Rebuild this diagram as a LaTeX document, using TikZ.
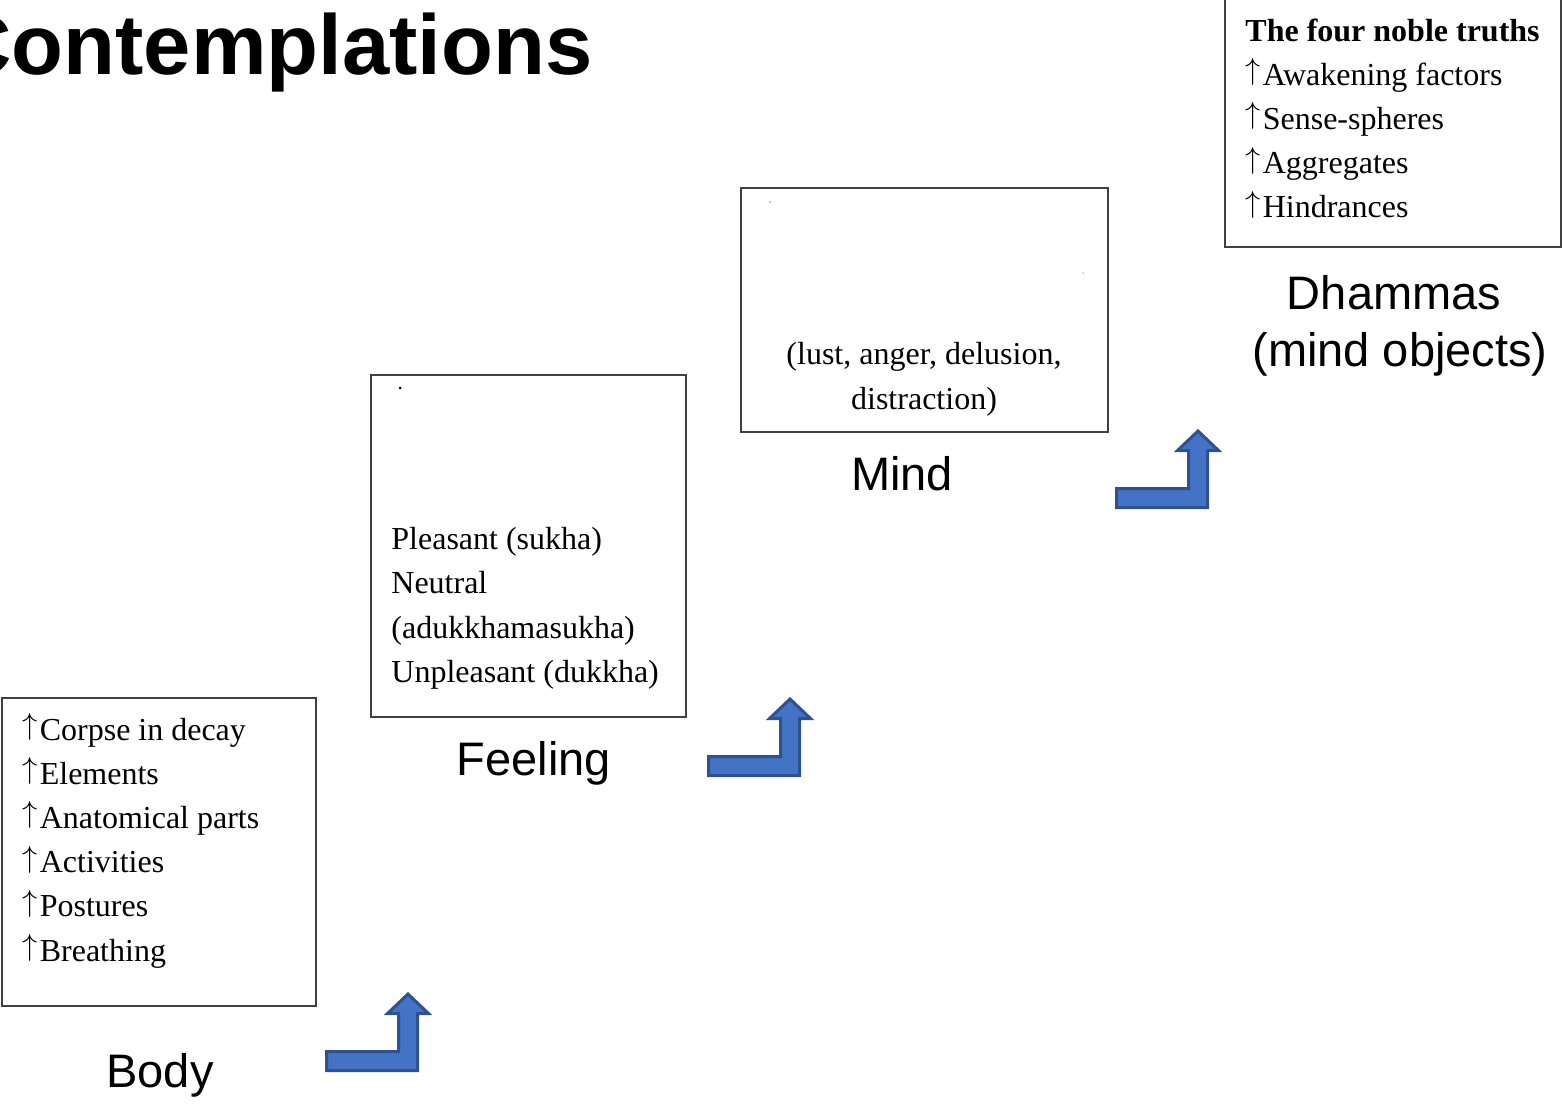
\documentclass[tikz,border=0pt]{standalone}
\usepackage{graphicx}
\usepackage{fontspec}
\setmainfont{Liberation Serif}
\newfontfamily\headfont{Liberation Sans}
\usetikzlibrary{fit,positioning}

\definecolor{arrowblue}{HTML}{4472C4}
\definecolor{arrowedge}{HTML}{2F528F}
\definecolor{boxgray}{HTML}{404040}

\newcommand{\upmark}{\raisebox{0.17em}{\scalebox{0.878}{$\uparrow$}}\kern0.07em}

\begin{document}
\begin{tikzpicture}[x=0.5pt, y=-0.5pt,
    box/.style={draw=boxgray, line width=0.75pt, inner sep=0pt},
    entry/.style={anchor=base west, inner sep=0pt, font=\fontsize{16}{22}\selectfont},
    midline/.style={anchor=base, inner sep=0pt, font=\fontsize{16}{22}\selectfont},
    stage/.style={anchor=base, inner sep=0pt, font=\headfont\fontsize{23.5}{28}\selectfont},
    turnarrow/.style={fill=arrowblue, draw=arrowedge, line width=1.5pt}]
   \useasboundingbox (0,0) rectangle (1562,1103);
   \clip (0,0) rectangle (1562,1103);

   % title
   \node[anchor=base west, inner sep=0pt, font=\headfont\bfseries\fontsize{42.5}{50}\selectfont]
     (title) at (-50,74) {Contemplations};

   % boxes
   \node[box, fit={(2,698) (316,1006)}] (bodybox) {};
   \node[box, fit={(371,375) (686,717)}] (feelbox) {};
   \node[box, fit={(741,188) (1108,432)}] (mindbox) {};
   \node[box, fit={(1225,-10) (1561,247)}] (dhammabox) {};

   % stray marks
   \fill (400,388) circle (1.5);
   \fill (770,202) circle (0.7);
   \fill (1083,273) circle (0.5);

   % body
   \foreach \entrytext [count=\i] in {Corpse in decay, Elements, Anatomical parts, Activities, Postures, Breathing}
     \node[entry] (body\i) at (22,{740+44.2*(\i-1)}) {\upmark\entrytext};

   % feeling
   \foreach \entrytext [count=\i] in {Pleasant (sukha), Neutral, (adukkhamasukha), Unpleasant (dukkha)}
     \node[entry] (feel\i) at (391,{549+44.6*(\i-1)}) {\entrytext};

   % mind
   \node[midline] (mind1) at (924,364) {(lust, anger, delusion,};
   \node[midline] (mind2) at (924,409) {distraction)};

   % dhammas
   \node[entry, font=\bfseries\fontsize{16}{22}\selectfont] (dhamma0) at (1245,41) {The four noble truths};
   \foreach \entrytext [count=\i] in {Awakening factors, Sense-spheres, Aggregates, Hindrances}
     \node[entry] (dhamma\i) at (1245,{41+44.2*\i}) {\upmark\entrytext};

   % stage labels
   \node[stage] (body) at (160,1087) {Body};
   \node[stage] (feeling) at (534,775) {Feeling};
   \node[stage] (mind) at (902,490) {Mind};
   \node[stage] (dhammas) at (1394,309) {Dhammas};
   \node[stage] (mindobj) at (1400,366) {(mind objects)};

   % bent arrows
   \foreach \ax/\ay in {325/1072, 707/777, 1115/509} {
     \begin{scope}[shift={(\ax,\ay)}]
       \draw[turnarrow] (1.5,-1.5) -- (1.5,-20.5) -- (73.5,-20.5) -- (73.5,-58.5)
         -- (62.5,-58.5) -- (83,-78) -- (103.5,-58.5) -- (92.5,-58.5) -- (92.5,-1.5) -- cycle;
     \end{scope}
   }
\end{tikzpicture}
\end{document}
